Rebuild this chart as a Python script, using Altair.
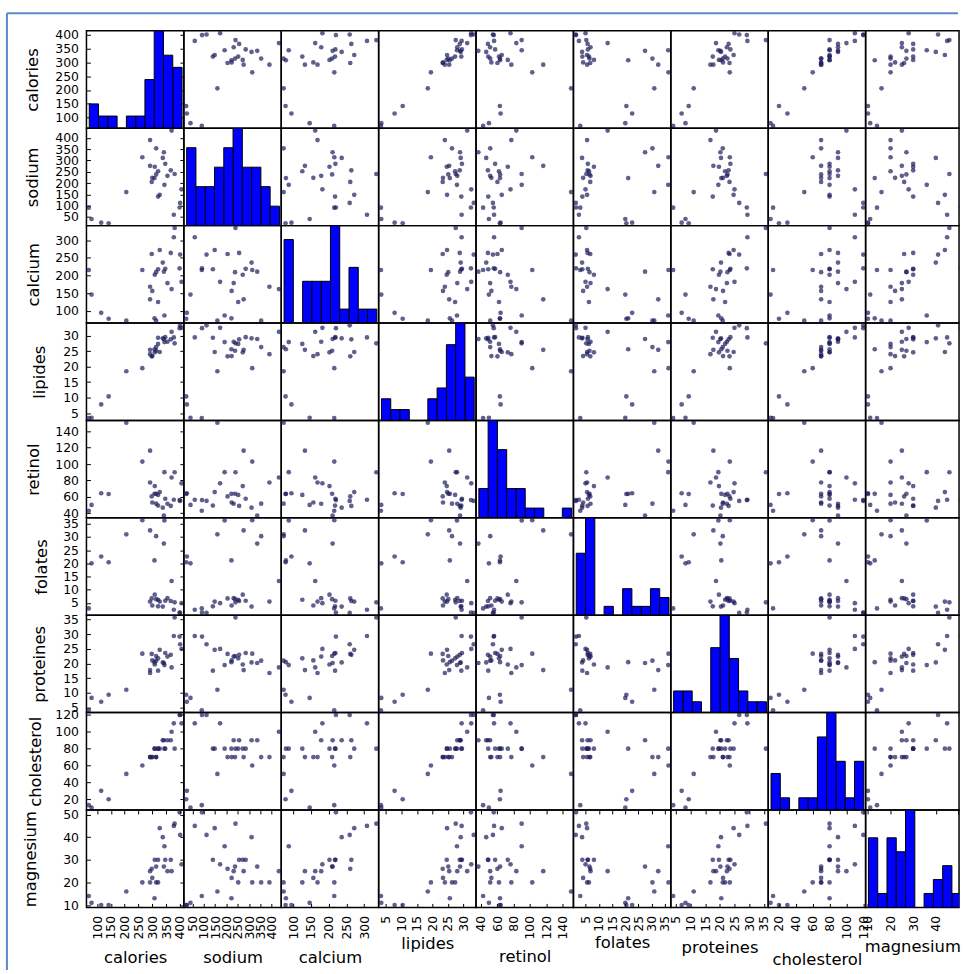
import altair as alt
import pandas as pd

# ---- data (fromage dataset, 29 cheeses) ----
fromages = ["CarredelEst", "Babybel", "Beaufort", "Bleu", "Camembert", "Cantal", "Chabichou",
            "Chaource", "Cheddar", "Comte", "Coulomniers", "Edam", "Emmental",
            "Fr.chevrepatemolle", "Fr.fondu.45", "Fr.frais20nat.", "Fr.frais40nat.", "Maroilles",
            "Morbier", "Parmesan", "Petitsuisse40", "PontlEveque", "Pyrenees", "Reblochon",
            "Rocquefort", "SaintPaulin", "Tome", "Vacherin", "Yaourtlaitent.nat."]
calories = [314, 314, 401, 342, 264, 367, 344, 292, 406, 399, 308, 327, 378, 206, 292, 80, 115,
            338, 347, 381, 142, 300, 355, 309, 370, 298, 321, 321, 70]
sodium = [353.5, 238, 112, 336, 314, 256, 192, 276, 172, 92, 222, 148, 60, 160, 390, 41, 25,
          311, 285, 240, 22, 223, 232, 272, 432, 205, 252, 140, 91]
calcium = [72.6, 209.8, 259.4, 211.1, 215.9, 264, 87.2, 132.9, 182.3, 220.5, 79.2, 272.2, 308.2,
           72.8, 168.5, 146.3, 94.8, 236.7, 219, 334.6, 78.2, 156.7, 178.9, 202.3, 162, 261,
           125.5, 218, 215.7]
lipides = [26.3, 25.1, 33.3, 28.9, 19.5, 28.8, 27.9, 25.4, 32.5, 32.4, 25.6, 24.7, 29.4, 18.5,
           24, 3.5, 7.8, 29.1, 29.5, 27.5, 10.4, 23.4, 28, 24.6, 31.2, 23.3, 27.3, 29.3, 3.4]
retinol = [51.6, 63.7, 54.9, 37.1, 103, 48.8, 90.1, 116.4, 76.4, 55.9, 63.6, 65.7, 56.3, 150.5,
           77.4, 50, 64.3, 46.7, 57.6, 90, 63.4, 53, 51.5, 73.1, 83.5, 60.4, 62.3, 49.2, 42.9]
folates = [30.3, 6.4, 1.2, 27.5, 36.4, 5.7, 36.3, 32.5, 4.9, 1.3, 21.1, 5.5, 2.4, 31, 5.5, 20,
           22.6, 3.6, 5.8, 5.2, 20.4, 4, 6.8, 8.1, 13.3, 6.7, 6.2, 3.7, 2.9]
proteines = [21, 22.6, 26.6, 20.2, 23.4, 23, 19.5, 17.8, 25, 29.2, 20.5, 24.7, 29.4, 11.1, 16.8,
             8.3, 7, 20.4, 23.6, 35.7, 9.4, 21.1, 22.4, 19.7, 18.7, 23.3, 21.8, 17.6, 4.1]
cholesterol = [70, 70, 120, 90, 60, 90, 80, 70, 110, 120, 80, 80, 110, 50, 70, 10, 30, 90, 80,
               80, 20, 70, 90, 80, 100, 70, 80, 80, 13]
magnesium = [20, 27, 41, 27, 20, 30, 36, 25, 28, 51, 13, 44, 45, 16, 20, 11, 10, 40, 30, 46, 10,
             22, 25, 30, 25, 26, 20, 30, 14]

variables = ["calories", "sodium", "calcium", "lipides", "retinol", "folates", "proteines",
             "cholesterol", "magnesium"]

tick_values = {
    "calories": [100, 150, 200, 250, 300, 350, 400],
    "sodium": [50, 100, 150, 200, 250, 300, 350, 400],
    "calcium": [100, 150, 200, 250, 300],
    "lipides": [5, 10, 15, 20, 25, 30],
    "retinol": [40, 60, 80, 100, 120, 140],
    "folates": [5, 10, 15, 20, 25, 30, 35],
    "proteines": [5, 10, 15, 20, 25, 30, 35],
    "cholesterol": [20, 40, 60, 80, 100, 120],
    "magnesium": [10, 20, 30, 40, 50],
}
# bottom labels of the last (cut-off) column stop before the window edge
bottom_tick_values = dict(tick_values, magnesium=[10, 20, 30, 40])

df = pd.DataFrame({
    "fromage": fromages, "calories": calories, "sodium": sodium, "calcium": calcium,
    "lipides": lipides, "retinol": retinol, "folates": folates, "proteines": proteines,
    "cholesterol": cholesterol, "magnesium": magnesium,
})

n = len(variables)
CELL = 98
H = 98
widths = [CELL] * (n - 1) + [94]          # last column is cut by the window edge

# scale domains: data range padded 2.5% each side (pandas scatter_matrix style)
domains = {}
for v in variables:
    lo, hi = float(df[v].min()), float(df[v].max())
    ext = (hi - lo) * 0.05 / 2
    domains[v] = [lo - ext, hi + ext]


def xdomain(v, j):
    lo, hi = domains[v]
    return [lo, lo + (hi - lo) * widths[j] / CELL]


# title baselines (pixels)
ytitle_base = {"calories": 37.5, "sodium": 37.5, "calcium": 38, "lipides": 44, "retinol": 38.5,
               "folates": 46.5, "proteines": 44.5, "cholesterol": 40, "magnesium": 35.5}
xtitle_base = {"calories": 965, "sodium": 965, "calcium": 965, "lipides": 951, "retinol": 964,
               "folates": 950, "proteines": 954.5, "cholesterol": 967, "magnesium": 954}
LEFT0 = 86
TOP0 = 26.7

POINT_COLOR = "#1c1c5c"
BAR_COLOR = "#0000ff"
FRAME_COLOR = "#5b8ac8"


def yscale(v):
    return alt.Scale(domain=domains[v], nice=False, zero=False)


def xscale(v, j):
    return alt.Scale(domain=xdomain(v, j), nice=False, zero=False)


def left_axis(v):
    return alt.Axis(orient="left", values=tick_values[v], title=v, offset=-4, tickSize=4,
                    domain=False, labelPadding=8, labelOverlap=False, labelFlush=False,
                    grid=False, titleX=ytitle_base[v] - (LEFT0 + 4.5), titleY=H / 2,
                    titleAngle=270, titleAlign="center", titleBaseline="alphabetic")


def right_ticks(v):
    return alt.Axis(orient="right", values=tick_values[v], title=None, labels=False, offset=-4,
                    tickSize=4, domain=False, grid=False)


def bottom_axis(v, j):
    axis_y = TOP0 + (n - 1) * H + H - 4 + 0.5
    return alt.Axis(orient="bottom", values=bottom_tick_values[v], title=v, offset=-4,
                    tickSize=4, domain=False, labelAngle=270, labelPadding=8,
                    labelOverlap=False, labelFlush=False, grid=False,
                    titleX=widths[j] / 2, titleY=xtitle_base[v] - axis_y,
                    titleAlign="center", titleBaseline="alphabetic")


def top_ticks(v):
    return alt.Axis(orient="top", values=tick_values[v], title=None, labels=False, offset=-4,
                    tickSize=4, domain=False, grid=False)


base = alt.Chart(df)

cells = []
for i, yv in enumerate(variables):
    for j, xv in enumerate(variables):
        layers = []
        if i != j:
            main = base.mark_circle(size=22, color=POINT_COLOR, opacity=0.7, clip=True).encode(
                x=alt.X(f"{xv}:Q", scale=xscale(xv, j),
                        axis=bottom_axis(xv, j) if i == n - 1 else None),
                y=alt.Y(f"{yv}:Q", scale=yscale(yv),
                        axis=left_axis(yv) if j == 0 else None),
            )
        else:
            lo, hi = float(df[xv].min()), float(df[xv].max())
            main = base.mark_bar(color=BAR_COLOR, stroke="black", strokeWidth=1, binSpacing=0,
                                 clip=True).encode(
                x=alt.X(f"{xv}:Q",
                        bin=alt.Bin(extent=[lo, hi], step=(hi - lo) / 10, nice=False),
                        scale=xscale(xv, j),
                        axis=bottom_axis(xv, j) if i == n - 1 else None,
                        title=xv),
                y=alt.Y("count():Q", scale=alt.Scale(nice=False, zero=True), axis=None),
            )
        layers.append(main)
        if i == j and j == 0:
            layers.append(base.mark_point(opacity=0).encode(
                x=alt.X(f"{xv}:Q", scale=xscale(xv, j), axis=None),
                y=alt.Y(f"{yv}:Q", scale=yscale(yv), axis=left_axis(yv))))
        if j == 0:
            layers.append(base.mark_point(opacity=0).encode(
                x=alt.X(f"{xv}:Q", scale=xscale(xv, j), axis=None),
                y=alt.Y(f"{yv}:Q", scale=yscale(yv), axis=right_ticks(yv))))
        if i == n - 1:
            layers.append(base.mark_point(opacity=0).encode(
                x=alt.X(f"{xv}:Q", scale=xscale(xv, j), axis=top_ticks(xv)),
                y=alt.Y(f"{yv}:Q", scale=yscale(yv), axis=None)))
        if i == 0 and j == 0:
            # notebook screenshot frame (decoration)
            frame = alt.Chart(pd.DataFrame({"k": [0]}))
            layers.append(frame.mark_rule(color=FRAME_COLOR, strokeWidth=2, clip=False).encode(
                x=alt.value(-80), y=alt.value(-17.7), y2=alt.value(945)))
            layers.append(frame.mark_rule(color=FRAME_COLOR, strokeWidth=2, clip=False).encode(
                x=alt.value(-80), x2=alt.value(877), y=alt.value(-17.7)))
        cell = alt.layer(*layers).properties(width=widths[j], height=H)
        if i == j:
            cell = cell.resolve_scale(y="independent")
        cell = cell.resolve_axis(x="independent", y="independent")
        cells.append(cell)

chart = alt.concat(*cells, columns=n, spacing=0, bounds="flush").properties(
    padding={"left": 5, "top": 8, "right": 0, "bottom": 0},
    background="white",
).configure_view(
    stroke="black", strokeWidth=1.5
).configure_axis(
    labelFont="DejaVu Sans", labelFontSize=12.5, labelColor="black",
    titleFont="DejaVu Sans", titleFontSize=16.5, titleFontWeight="normal", titleColor="black",
    tickColor="black", tickWidth=1,
)

chart.save("out.html", embed_options={"renderer": "svg", "actions": False})
